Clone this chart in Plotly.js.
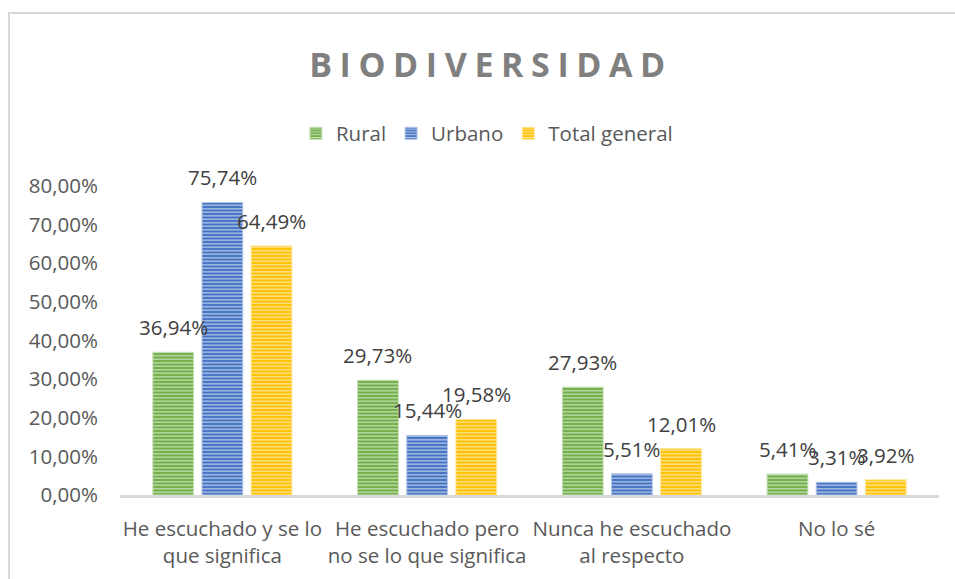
<!DOCTYPE html>
<html>
<head>
<meta charset="utf-8">
<script src="https://cdn.plot.ly/plotly-3.0.1.min.js"></script>
<style>
  html, body { margin: 0; padding: 0; background: #ffffff; }
  #wrap { position: relative; width: 955px; height: 579px; overflow: hidden; }
  #chart { width: 955px; height: 579px; }
  #frame { position: absolute; left: 8px; top: 12px; width: 2000px; height: 2000px;
           border-left: 2px solid #d9d9d9; border-top: 2px solid #d9d9d9; pointer-events: none; }
  .gtitle { letter-spacing: 7.6px; }
</style>
</head>
<body>
<div id="wrap">
  <div id="chart"></div>
  <div id="frame"></div>
</div>
<script>
// ---- data ----
const categories = [
  "He escuchado y se lo<br>que significa",
  "He escuchado pero<br>no se lo que significa",
  "Nunca he escuchado<br>al respecto",
  "No lo sé"
];
const seriesNames = ["Rural", "Urbano", "Total general"];
const rural = [36.94, 29.73, 27.93, 5.41];
const urbano = [75.74, 15.44, 5.51, 3.31];
const totalGeneral = [64.49, 19.58, 12.01, 3.92];
const yTickVals = [0, 10, 20, 30, 40, 50, 60, 70, 80];
const yTickText = ["0,00%", "10,00%", "20,00%", "30,00%", "40,00%", "50,00%", "60,00%", "70,00%", "80,00%"];

// ---- styles ----
const baseColors = ["#70ad47", "#4472c4", "#ffc000"];
const lightColors = ["#c5e0b4", "#b4c7e7", "#ffe699"];
const fontFam = "'Open Sans', 'Liberation Sans', sans-serif";
const fmt = v => v.toFixed(2).replace(".", ",") + "%";

const allSeries = [rural, urbano, totalGeneral];
const traces = allSeries.map((vals, i) => ({
  type: "bar",
  name: seriesNames[i],
  x: categories,
  y: vals,
  marker: {
    color: baseColors[i],
    line: { color: lightColors[i], width: 1 },
    pattern: { shape: "-", size: 3.5, solidity: 0.38, fgcolor: lightColors[i], bgcolor: baseColors[i], fillmode: "replace" }
  },
  hoverinfo: "skip"
}));

const groupSlot = 49.2;
const annotations = [];
allSeries.forEach((vals, i) => {
  vals.forEach((v, j) => {
    annotations.push({
      x: categories[j], y: v, xref: "x", yref: "y",
      text: fmt(v), showarrow: false,
      xshift: (i - 1) * groupSlot, yshift: 25, yanchor: "middle",
      font: { family: fontFam, size: 20.5, color: "#404040" }
    });
  });
});

const layout = {
  width: 955, height: 579,
  margin: { l: 119.5, r: 15.5, t: 186, b: 84 },
  paper_bgcolor: "#ffffff", plot_bgcolor: "#ffffff",
  font: { family: fontFam, size: 20.5, color: "#595959" },
  title: {
    text: "BIODIVERSIDAD",
    font: { family: fontFam, size: 34, color: "#808080", weight: 700 },
    x: 491 / 955, xanchor: "center", xref: "container",
    y: 1 - 65 / 579, yanchor: "middle", yref: "container"
  },
  barmode: "group",
  bargap: 0.28,
  bargroupgap: 0.17,
  showlegend: true,
  legend: {
    orientation: "h", x: 0.448, xanchor: "center", y: 1.17, yanchor: "middle",
    font: { family: fontFam, size: 20.5, color: "#595959" },
    itemwidth: 30, tracegroupgap: 0
  },
  xaxis: {
    type: "category",
    range: [-0.5, 3.5],
    showline: true, linecolor: "#d9d9d9", linewidth: 2.5,
    showgrid: false, zeroline: false, ticks: "",
    ticklabelstandoff: 14,
    tickfont: { family: fontFam, size: 20.5, color: "#595959" },
    fixedrange: true
  },
  yaxis: {
    range: [0, 80],
    tickvals: yTickVals, ticktext: yTickText,
    showline: false, showgrid: false, zeroline: false, ticks: "",
    ticklabelstandoff: 21,
    tickfont: { family: fontFam, size: 20.5, color: "#595959" },
    fixedrange: true
  },
  annotations: annotations
};

Plotly.newPlot("chart", traces, layout, { displayModeBar: false, staticPlot: true });
</script>
</body>
</html>
